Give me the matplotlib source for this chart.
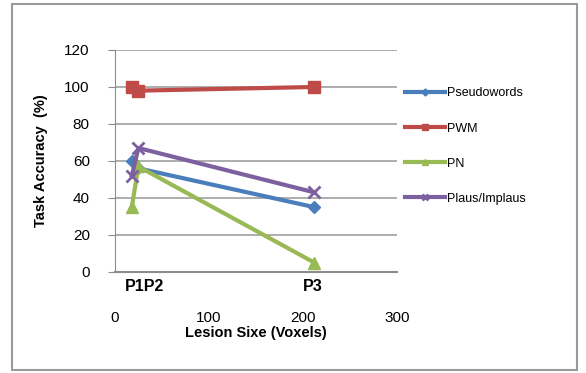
import matplotlib.pyplot as plt
from matplotlib.patches import Rectangle

# lesion size per patient (P1, P2, P3) and task accuracy per task
lesion = [18, 25, 212]
pseudowords = [60, 56, 35]
pwm = [100, 98, 100]
pn = [35, 57, 5]
plaus = [52, 67, 43]

series = [
    ('Pseudowords', pseudowords, '#4A7EBB', 'D', 6),
    ('PWM', pwm, '#BE4B48', 's', 8),
    ('PN', pn, '#98B954', '^', 8),
    ('Plaus/Implaus', plaus, '#7D60A0', 'x', 8),
]
patients = [('P1P2', 32), ('P3', 210)]

plt.rcParams['font.family'] = ['Liberation Sans', 'DejaVu Sans']

fig = plt.figure(figsize=(5.86, 3.73), dpi=100)
fig.patches.append(Rectangle((12 / 586, 3 / 373), 565 / 586, 366 / 373,
                             transform=fig.transFigure, fill=False,
                             edgecolor='#9a9a9a', linewidth=1.5))

ax = fig.add_axes([0.196, 0.271, 0.482, 0.595])
for name, vals, col, mk, ms in series:
    ax.plot(lesion, vals, color=col, linewidth=3, marker=mk, markersize=ms,
            markeredgewidth=2 if mk == 'x' else 1, label=name)

ax.set_xlim(0, 300)
ax.set_ylim(0, 120)
ax.set_yticks(range(0, 121, 20))
ax.set_xticks([0, 100, 200, 300])
ax.yaxis.grid(True, color='#a0a0a0', linewidth=1.2)
ax.set_axisbelow(True)
for s in ['top', 'right']:
    ax.spines[s].set_visible(False)
ax.spines['left'].set_color('#8c8c8c')
ax.spines['bottom'].set_color('#8c8c8c')
ax.spines['bottom'].set_linewidth(1.5)
ax.tick_params(axis='y', length=5, color='#8c8c8c', labelsize=11, pad=13)
ax.tick_params(axis='x', length=0, labelsize=11, pad=28)

for lab, xp in patients:
    ax.text(xp, -4, lab, ha='center', va='top', fontsize=11.5, fontweight='bold')

ax.set_ylabel('Task Accuracy  (%)', fontsize=10.5, fontweight='bold', labelpad=12)
ax.set_xlabel('Lesion Sixe (Voxels)', fontsize=10.5, fontweight='bold', labelpad=1)

ax.legend(loc='upper left', bbox_to_anchor=(1.0, 0.865), frameon=False,
          fontsize=9, handlelength=3.2, handletextpad=0.2, labelspacing=1.85,
          borderaxespad=0.2, markerscale=0.6)

fig.savefig('out.png', dpi=100)
